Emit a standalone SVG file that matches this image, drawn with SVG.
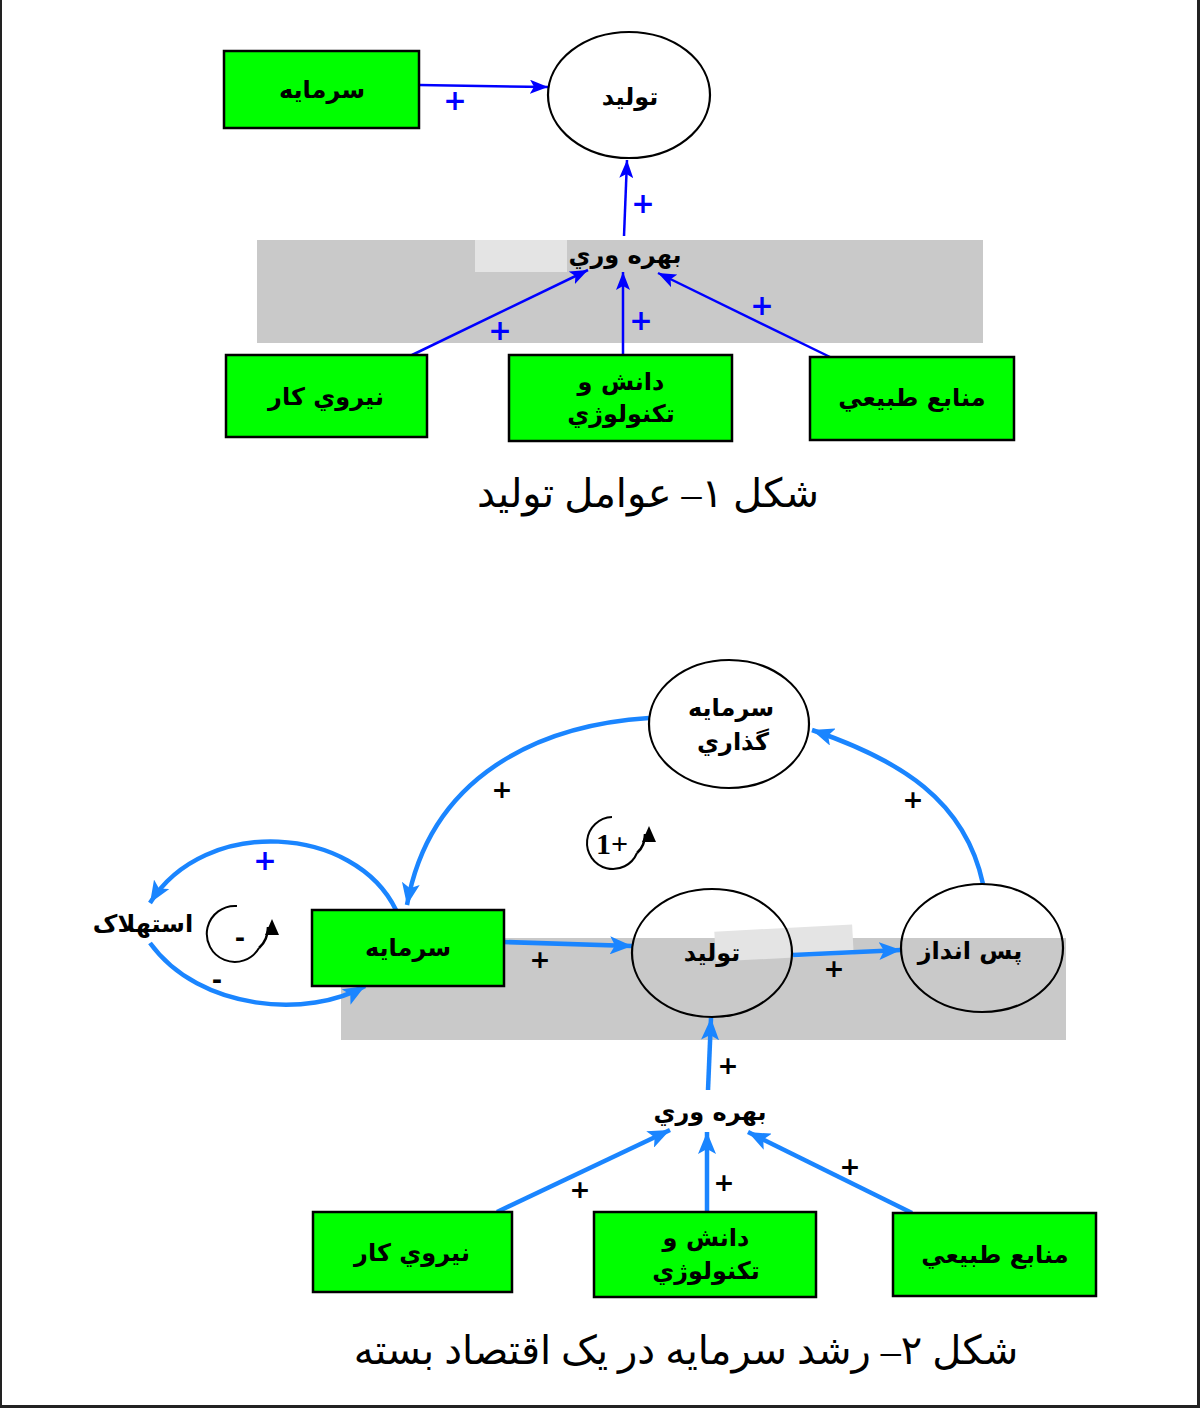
<svg xmlns="http://www.w3.org/2000/svg" width="1200" height="1408" viewBox="0 0 1200 1408">
<style>
.box{fill:#00ff00;stroke:#000;stroke-width:2.5}
.ell{fill:none;stroke:#000;stroke-width:2.2}
.lbl{font-family:"DejaVu Sans","Liberation Sans",sans-serif;font-weight:bold;font-size:24px;fill:#000;text-anchor:middle;direction:rtl}
.cap{font-family:"Liberation Serif","DejaVu Serif","DejaVu Sans",serif;font-size:40px;fill:#000;text-anchor:middle;direction:rtl}
.p1{font-family:"DejaVu Sans","Liberation Sans",sans-serif;font-weight:bold;font-size:28px;fill:#0000ff;text-anchor:middle}
.p2{font-family:"DejaVu Sans","Liberation Sans",sans-serif;font-weight:bold;font-size:25px;fill:#000;text-anchor:middle}
.a1{fill:none;stroke:#0000ff;stroke-width:2.5;marker-end:url(#m1)}
.a2{fill:none;stroke:#1a85ff;stroke-width:4.5;marker-end:url(#m2)}
.band{fill:#c9c9c9}
</style>
<defs>
<marker id="m1" markerUnits="userSpaceOnUse" markerWidth="20" markerHeight="14" refX="18" refY="7" orient="auto"><path d="M0,0 L18,7 L0,14 L4,7 Z" fill="#0000ff"/></marker>
<marker id="m2" markerUnits="userSpaceOnUse" markerWidth="24" markerHeight="18" refX="22" refY="9" orient="auto"><path d="M0,0 L22,9 L0,18 L5,9 Z" fill="#1a85ff"/></marker>
<marker id="mk" markerUnits="userSpaceOnUse" markerWidth="16" markerHeight="14" refX="8" refY="3" orient="auto"><path d="M0,0 L16,7 L0,14 Z" fill="#000"/></marker>
</defs>
<rect x="0" y="0" width="1200" height="1408" fill="#ffffff"/>
<g id="watermark1">
<rect class="band" x="257" y="240" width="726" height="103"/>
<rect x="475" y="240" width="92" height="32" fill="#e4e4e4"/>
</g>
<g id="watermark2">
<rect class="band" x="341" y="938" width="725" height="102"/>
<rect x="715" y="928" width="138" height="30" fill="#e4e4e4" transform="rotate(-3 784 943)"/>
</g>
<g id="connectors">
<path class="a1" d="M419,85 L548,87"/>
<path class="a1" d="M624,236 L627,160"/>
<path class="a1" d="M412,355 L588,270"/>
<path class="a1" d="M623,355 L623,272"/>
<path class="a1" d="M830,357 L658,273"/>
<path class="a2" d="M649,718 C540,725 430,775 407,905"/>
<path class="a2" d="M983,884 C965,800 900,760 812,730"/>
<path class="a2" d="M396,910 C355,825 205,815 150,903"/>
<path class="a2" d="M150,943 C200,1012 310,1018 365,986"/>
<path class="a2" d="M504,942 L632,946"/>
<path class="a2" d="M793,955 L901,950"/>
<path class="a2" d="M708,1090 L711,1018"/>
<path class="a2" d="M497,1212 L670,1130"/>
<path class="a2" d="M707,1212 L707,1132"/>
<path class="a2" d="M912,1213 L748,1132"/>
</g>
<g id="signs">
<text class="p1" x="455" y="110">+</text>
<text class="p1" x="643" y="213">+</text>
<text class="p1" x="500" y="340">+</text>
<text class="p1" x="641" y="330">+</text>
<text class="p1" x="762" y="315">+</text>
<text class="p1" x="265" y="870">+</text>
<text class="p2" x="502" y="798">+</text>
<text class="p2" x="913" y="808">+</text>
<text class="p2" x="540" y="968">+</text>
<text class="p2" x="834" y="977">+</text>
<text class="p2" x="217" y="988">-</text>
<text class="p2" x="728" y="1074">+</text>
<text class="p2" x="580" y="1198">+</text>
<text class="p2" x="724" y="1191">+</text>
<text class="p2" x="850" y="1175">+</text>
</g>
<g id="n-sarmaye1"><rect class="box" x="224" y="51" width="195" height="77"/><text class="lbl" x="322" y="98">سرمایه</text></g>
<g id="n-tolid1"><ellipse class="ell" cx="629" cy="95" rx="81" ry="63"/><text class="lbl" x="630" y="105">تولید</text></g>
<g id="n-bahrevari1"><text class="lbl" x="625" y="263">بهره وري</text></g>
<g id="n-niroo1"><rect class="box" x="226" y="355" width="201" height="82"/><text class="lbl" x="326" y="405">نيروي کار</text></g>
<g id="n-danesh1"><rect class="box" x="509" y="355" width="223" height="86"/><text class="lbl" x="621" y="390">دانش و</text><text class="lbl" x="621" y="422">تکنولوژي</text></g>
<g id="n-manabe1"><rect class="box" x="810" y="357" width="204" height="83"/><text class="lbl" x="912" y="406">منابع طبيعي</text></g>
<g id="caption1"><text class="cap" x="648" y="507">شکل ۱– عوامل تولید</text></g>
<g id="n-sarmayegozari"><ellipse class="ell" cx="729" cy="724" rx="80" ry="64"/><text class="lbl" x="731" y="716">سرمایه</text><text class="lbl" x="733" y="750">گذاري</text></g>
<g id="n-tolid2"><ellipse class="ell" cx="712" cy="953" rx="80" ry="64"/><text class="lbl" x="712" y="961">تولید</text></g>
<g id="n-pasandaz"><ellipse class="ell" cx="982" cy="948" rx="81" ry="64"/><text class="lbl" x="970" y="959">پس انداز</text></g>
<g id="n-sarmaye2"><rect class="box" x="312" y="910" width="192" height="76"/><text class="lbl" x="408" y="956">سرمایه</text></g>
<g id="n-estehlak"><text class="lbl" x="143" y="932">استهلاک</text></g>
<g id="loop-minus"><path d="M259,948 A28,28 0 1 1 237,906" fill="none" stroke="#000" stroke-width="2"/><path d="M259,948 Q268,940 268,927" fill="none" stroke="#000" stroke-width="2.5" marker-end="url(#mk)"/><text class="p2" x="240" y="946" font-size="22">-</text></g>
<g id="loop-plus"><path d="M637,853 A26,26 0 1 1 612,817" fill="none" stroke="#000" stroke-width="2"/><path d="M637,853 Q645,846 645,834" fill="none" stroke="#000" stroke-width="2.5" marker-end="url(#mk)"/><text x="612" y="854" font-family="Liberation Serif,serif" font-weight="bold" font-size="30" text-anchor="middle">1+</text></g>
<g id="n-bahrevari2"><text class="lbl" x="710" y="1120">بهره وري</text></g>
<g id="n-niroo2"><rect class="box" x="313" y="1212" width="199" height="80"/><text class="lbl" x="412" y="1261">نيروي کار</text></g>
<g id="n-danesh2"><rect class="box" x="594" y="1212" width="222" height="85"/><text class="lbl" x="706" y="1246">دانش و</text><text class="lbl" x="706" y="1279">تکنولوژي</text></g>
<g id="n-manabe2"><rect class="box" x="893" y="1213" width="203" height="83"/><text class="lbl" x="995" y="1263">منابع طبيعي</text></g>
<g id="caption2"><text class="cap" x="686" y="1364">شکل ۲– رشد سرمایه در یک اقتصاد بسته</text></g>
<g id="frame"><rect x="0" y="0" width="2" height="1408" fill="#222"/><rect x="1197" y="0" width="3" height="1408" fill="#222"/><rect x="0" y="1405" width="1200" height="3" fill="#222"/></g>
</svg>
